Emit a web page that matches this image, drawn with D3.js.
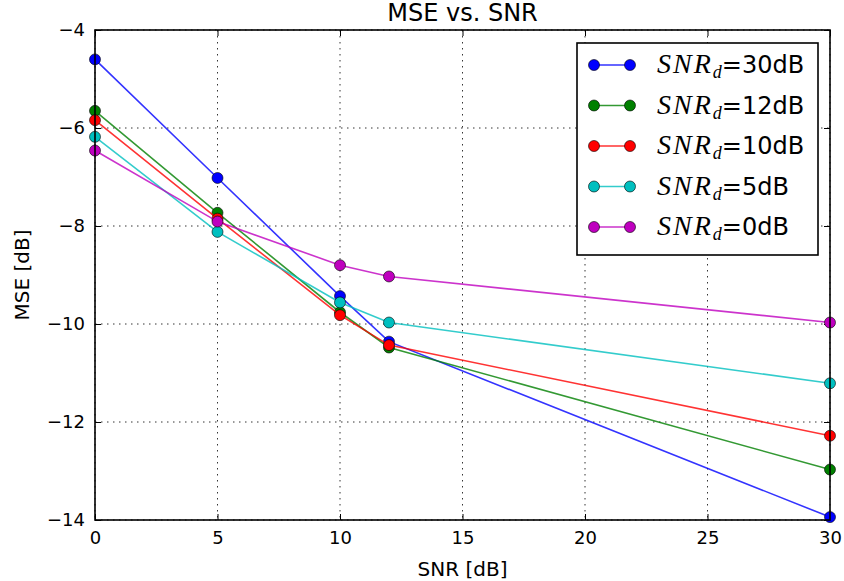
<!DOCTYPE html>
<html>
<head>
<meta charset="utf-8">
<script src="https://cdn.jsdelivr.net/npm/d3@7"></script>
<style>
  html, body { margin: 0; padding: 0; background: #fff; }
  svg { display: block; }
  text { font-family: "DejaVu Sans", sans-serif; fill: #000; }
</style>
</head>
<body>
<script>
// SNR values on the x axis
const snr = [0, 5, 10, 12, 30];

// MSE curves, one per SNR_d setting
const seriesNames = ["30", "12", "10", "5", "0"];
const seriesColors = ["#0000ff", "#008000", "#ff0000", "#00bfbf", "#bf00bf"];
const mse30 = [-4.6, -7.02, -9.43, -10.36, -13.94];
const mse12 = [-5.65, -7.73, -9.76, -10.48, -12.97];
const mse10 = [-5.84, -7.85, -9.82, -10.43, -12.28];
const mse5 = [-6.18, -8.12, -9.56, -9.97, -11.21];
const mse0 = [-6.46, -7.91, -8.8, -9.03, -9.97];
const seriesValues = [mse30, mse12, mse10, mse5, mse0];

const xTicks = [0, 5, 10, 15, 20, 25, 30];
const yTicks = [-4, -6, -8, -10, -12, -14];

const W = 844, H = 581;
const m = { left: 95, right: 14, top: 30, bottom: 61 };

const svg = d3.select("body").append("svg").attr("width", W).attr("height", H);

const x = d3.scaleLinear().domain([0, 30]).range([m.left, W - m.right]);
const y = d3.scaleLinear().domain([-14, -4]).range([H - m.bottom, m.top]);

const fmt = v => (v < 0 ? "\u2212" + Math.abs(v) : String(v));

// dotted grid
const grid = svg.append("g");
grid.selectAll("line.gx").data(xTicks).enter().append("line")
  .attr("x1", d => x(d)).attr("x2", d => x(d))
  .attr("y1", y(-4)).attr("y2", y(-14))
  .attr("stroke", "#000").attr("stroke-width", 0.8).attr("stroke-dasharray", "1.5,4.5");
grid.selectAll("line.gy").data(yTicks).enter().append("line")
  .attr("y1", d => y(d)).attr("y2", d => y(d))
  .attr("x1", x(0)).attr("x2", x(30))
  .attr("stroke", "#000").attr("stroke-width", 0.8).attr("stroke-dasharray", "1.5,4.5");

// inward ticks on all four sides
const tickLen = 6;
const axB = d3.axisBottom(x).tickValues(xTicks).tickSize(-tickLen).tickPadding(11).tickFormat(fmt);
const axT = d3.axisTop(x).tickValues(xTicks).tickSize(-tickLen).tickFormat("");
const axL = d3.axisLeft(y).tickValues(yTicks).tickSize(-tickLen).tickPadding(10).tickFormat(fmt);
const axR = d3.axisRight(y).tickValues(yTicks).tickSize(-tickLen).tickFormat("");

function styleAxis(g) {
  g.select(".domain").remove();
  g.selectAll(".tick line").attr("stroke", "#000").attr("stroke-width", 1);
  g.selectAll(".tick text").style("font-family", "DejaVu Sans, sans-serif").style("font-size", "18px");
}
svg.append("g").attr("transform", `translate(0,${y(-14)})`).call(axB).call(styleAxis);
svg.append("g").attr("transform", `translate(0,${y(-4)})`).call(axT).call(styleAxis);
svg.append("g").attr("transform", `translate(${x(0)},0)`).call(axL).call(styleAxis);
svg.append("g").attr("transform", `translate(${x(30)},0)`).call(axR).call(styleAxis);

// series lines and markers
const markerR = 5.5;
const line = d3.line().x((d, i) => x(snr[i])).y(d => y(d));
const plot = svg.append("g");
seriesValues.forEach((vals, k) => {
  const g = plot.append("g");
  g.append("path").datum(vals).attr("d", line)
    .attr("fill", "none").attr("stroke", seriesColors[k])
    .attr("stroke-width", 1.6).attr("stroke-opacity", 0.8);
  g.selectAll("circle").data(vals).enter().append("circle")
    .attr("cx", (d, i) => x(snr[i])).attr("cy", d => y(d)).attr("r", markerR)
    .attr("fill", seriesColors[k]).attr("stroke", "#000").attr("stroke-width", 0.6);
});

// frame
svg.append("rect")
  .attr("x", x(0)).attr("y", y(-4))
  .attr("width", x(30) - x(0)).attr("height", y(-14) - y(-4))
  .attr("fill", "none").attr("stroke", "#000").attr("stroke-width", 1.6);

// title and axis labels
svg.append("text").attr("x", (x(0) + x(30)) / 2).attr("y", 21)
  .attr("text-anchor", "middle").style("font-size", "24px").text("MSE vs. SNR");
svg.append("text").attr("x", (x(0) + x(30)) / 2).attr("y", 576)
  .attr("text-anchor", "middle").style("font-size", "20px").text("SNR [dB]");
svg.append("text").attr("transform", `translate(29,${(y(-4) + y(-14)) / 2}) rotate(-90)`)
  .attr("text-anchor", "middle").style("font-size", "20px").text("MSE [dB]");

// legend
const lg = svg.append("g");
lg.append("rect").attr("x", 577).attr("y", 43).attr("width", 241).attr("height", 212)
  .attr("fill", "#fff").attr("stroke", "#000").attr("stroke-width", 1.6);
seriesNames.forEach((name, k) => {
  const cy = 65 + k * 40.5;
  lg.append("line").attr("x1", 594).attr("x2", 630).attr("y1", cy).attr("y2", cy)
    .attr("stroke", seriesColors[k]).attr("stroke-width", 1.6).attr("stroke-opacity", 0.8);
  [594, 630].forEach(cx => lg.append("circle").attr("cx", cx).attr("cy", cy).attr("r", markerR)
    .attr("fill", seriesColors[k]).attr("stroke", "#000").attr("stroke-width", 0.6));
  const t = lg.append("text").attr("x", 657).attr("y", cy + 8).style("font-size", "24px");
  t.append("tspan").style("font-family", "Liberation Serif, serif").style("font-style", "italic")
    .style("font-size", "28px").style("letter-spacing", "2px").text("SNR");
  t.append("tspan").style("font-family", "Liberation Serif, serif").style("font-style", "italic")
    .style("font-size", "18px").attr("dy", 5).text("d");
  t.append("tspan").attr("dy", -5).text("=" + name + "dB");
});
</script>
</body>
</html>
